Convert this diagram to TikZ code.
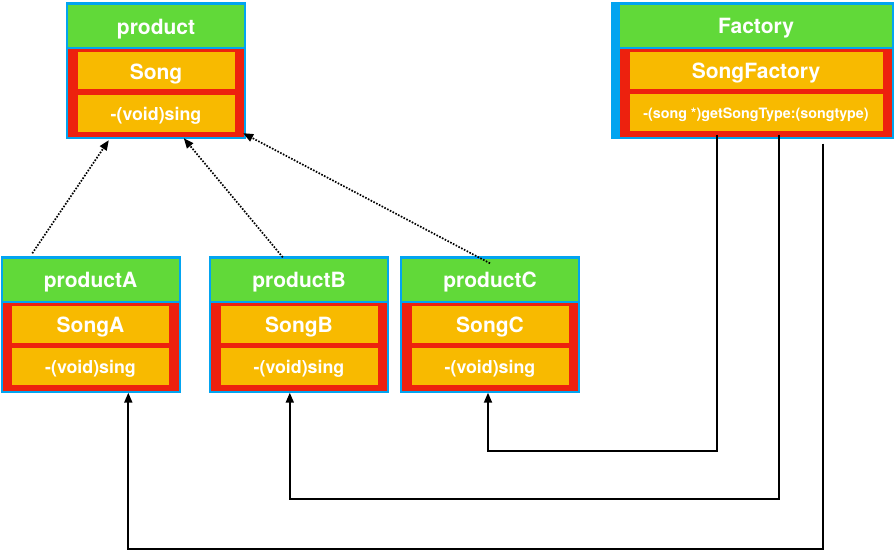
\documentclass[tikz,border=0pt]{standalone}
\usepackage{fontspec}
\setmainfont{TeX Gyre Heros}
\usetikzlibrary{positioning,arrows.meta}
\definecolor{umlblue}{RGB}{2,164,240}
\definecolor{umlgreen}{RGB}{97,217,57}
\definecolor{umlred}{RGB}{237,33,14}
\definecolor{umlorange}{RGB}{248,186,0}

\begin{document}
\begin{tikzpicture}[x=1pt,y=-1pt,
	frame/.style={fill=umlblue, inner sep=0pt, minimum height=137},
	head/.style={fill=umlgreen, inner sep=0pt, minimum height=42, anchor=north east, text=white, text height=19pt, text depth=2.4pt, font=\bfseries\fontsize{21}{24}\selectfont},
	body/.style={fill=umlred, inner sep=0pt, minimum height=88},
	cell/.style={fill=umlorange, inner sep=0pt, minimum height=37, text=white, text height=19pt, text depth=2pt, font=\bfseries\fontsize{21}{24}\selectfont},
	meth/.style={cell, text height=16pt, text depth=2pt, font=\bfseries\fontsize{17.8}{20}\selectfont},
	impl/.style={dash pattern=on 1.6pt off 1.5pt, line width=1.7pt, -{Triangle[length=10pt,width=8pt]}},
	call/.style={line width=1.8pt, -{Triangle[length=10pt,width=8pt]}}]
		\useasboundingbox (0,0) rectangle (895,554);
		% product
		\node[frame, minimum width=180] (prod) at (156,70.5) {};
		\node[head, minimum width=176] (prodHd) at ([xshift=-2pt,yshift=-3pt]prod.north east) {product};
		\node[body, minimum width=176, below=2pt of prodHd] (prodBody) {};
		\node[cell, minimum width=157, below=3pt of prodBody.north] (prodCls) {Song};
		\node[meth, minimum width=157, below=5pt of prodCls] (prodMth) {-(void)sing};
		% Factory
		\node[frame, minimum width=283] (factory) at (752.5,70) {};
		\node[head, minimum width=272] (factoryHd) at ([xshift=-2pt,yshift=-3pt]factory.north east) {Factory};
		\node[body, minimum width=272, below=2pt of factoryHd] (factoryBody) {};
		\node[cell, minimum width=253, below=3pt of factoryBody.north] (factoryCls) {SongFactory};
		\node[meth, minimum width=253, below=5pt of factoryCls, text height=13pt, text depth=2pt, font=\bfseries\fontsize{14.3}{17}\selectfont] (factoryMth) {-(song *)getSongType:(songtype)};
		% productA
		\node[frame, minimum width=180] (prodA) at (90.5,324) {};
		\node[head, minimum width=176] (prodAHd) at ([xshift=-2pt,yshift=-3pt]prodA.north east) {productA};
		\node[body, minimum width=176, below=2pt of prodAHd] (prodABody) {};
		\node[cell, minimum width=157, below=3pt of prodABody.north] (prodACls) {SongA};
		\node[meth, minimum width=157, below=5pt of prodACls] (prodAMth) {-(void)sing};
		% productB
		\node[frame, minimum width=180] (prodB) at (299,324) {};
		\node[head, minimum width=176] (prodBHd) at ([xshift=-2pt,yshift=-3pt]prodB.north east) {productB};
		\node[body, minimum width=176, below=2pt of prodBHd] (prodBBody) {};
		\node[cell, minimum width=157, below=3pt of prodBBody.north] (prodBCls) {SongB};
		\node[meth, minimum width=157, below=5pt of prodBCls] (prodBMth) {-(void)sing};
		% productC
		\node[frame, minimum width=180] (prodC) at (490,324) {};
		\node[head, minimum width=176] (prodCHd) at ([xshift=-2pt,yshift=-3pt]prodC.north east) {productC};
		\node[body, minimum width=176, below=2pt of prodCHd] (prodCBody) {};
		\node[cell, minimum width=157, below=3pt of prodCBody.north] (prodCCls) {SongC};
		\node[meth, minimum width=157, below=5pt of prodCCls] (prodCMth) {-(void)sing};
		% inheritance
		\draw[impl] ([xshift=32pt,yshift=2pt]prodA.north west) -- ([xshift=43pt,yshift=-1pt]prod.south west);
		\draw[impl] ([xshift=74pt,yshift=-2pt]prodB.north west) -- ([xshift=118pt,yshift=1pt]prod.south west);
		\draw[impl] ([yshift=-8pt]prodC.north) -- ([xshift=-3pt,yshift=6pt]prod.south east);
		% factory creates
		\draw[call] ([xshift=106pt,yshift=4pt]factory.south west) -- ++(0,316) -| ([xshift=-2pt]prodC.south);
		\draw[call] ([xshift=168pt,yshift=4pt]factory.south west) -- ++(0,364) -| ([xshift=81pt]prodB.south west);
		\draw[call] ([xshift=212pt,yshift=-5pt]factory.south west) -- ++(0,405) -| ([xshift=128pt]prodA.south west);
\end{tikzpicture}
\end{document}
